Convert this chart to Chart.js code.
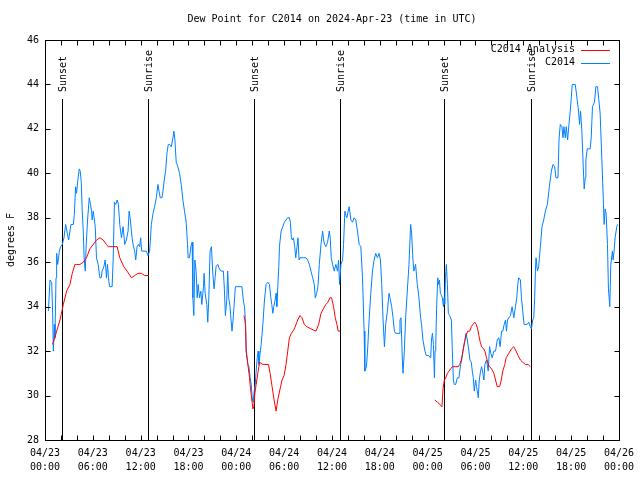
<!DOCTYPE html>
<html>
<head>
<meta charset="utf-8">
<script src="https://cdn.jsdelivr.net/npm/chart.js@4"></script>
<style>
  html, body { margin: 0; padding: 0; background: #fff; }
  #wrap { width: 640px; height: 480px; }
</style>
</head>
<body>
<div id="wrap"><canvas id="myChart" width="640" height="480"></canvas></div>
<script>
// hours after 04/23 00:00 UTC
var obsHours = [
  0.42,0.63,0.84,0.96,1.05,1.17,1.25,1.38,1.46,1.59,1.67,1.8,1.96,2.17,2.38,2.59,2.8,2.96,3.13,3.25,
  3.55,3.67,3.84,3.96,4.09,4.3,4.42,4.55,4.67,4.8,4.92,5.05,5.17,5.34,5.55,5.71,5.84,5.92,6.05,6.17,
  6.3,6.46,6.67,6.88,7.05,7.17,7.38,7.55,7.71,7.84,7.96,8.09,8.42,8.55,8.71,8.88,9.05,9.21,9.38,9.59,
  9.8,10.0,10.21,10.42,10.55,10.71,10.92,11.05,11.25,11.38,11.55,11.71,11.88,12.0,12.13,12.3,12.71,12.92,13.13,13.34,
  13.55,13.75,13.96,14.17,14.3,14.46,14.67,14.8,14.96,15.13,15.3,15.46,15.63,15.84,16.05,16.17,16.3,16.46,16.67,16.88,
  17.09,17.3,17.5,17.71,17.88,17.96,18.13,18.3,18.46,18.55,18.67,18.8,18.96,19.09,19.21,19.38,19.55,19.67,19.88,19.96,
  20.09,20.3,20.42,20.55,20.71,20.88,21.05,21.21,21.34,21.46,21.67,21.88,22.09,22.38,22.5,22.63,22.8,22.92,23.05,23.21,
  23.34,23.46,23.59,23.71,23.88,24.17,
  24.7,24.91,25.03,25.16,25.24,25.45,25.58,25.74,25.87,25.99,26.12,26.24,26.37,26.49,26.62,26.74,26.83,26.99,27.12,27.33,
  27.53,27.74,27.95,28.16,28.33,28.45,28.58,28.7,28.87,28.99,29.08,29.2,29.33,29.41,29.62,29.83,30.03,30.24,30.45,30.66,
  30.78,30.91,31.03,31.16,31.33,31.45,31.62,31.74,31.87,31.99,32.33,32.74,32.95,33.16,33.37,33.58,33.78,33.91,34.08,34.24,
  34.41,34.62,34.83,34.95,35.08,35.24,35.45,35.66,35.78,35.91,36.08,36.28,36.49,36.7,36.83,36.95,37.12,37.33,37.45,37.62,
  37.74,37.87,38.03,38.16,38.37,38.58,38.78,38.99,39.2,39.41,39.62,39.83,40.03,40.12,40.33,40.49,40.66,40.87,41.08,41.28,
  41.49,41.7,41.91,42.08,42.24,42.41,42.58,42.74,42.95,43.16,43.28,43.49,43.66,43.83,43.99,44.41,44.53,44.66,44.83,44.91,
  45.08,45.24,45.45,45.66,45.87,45.99,46.16,46.28,46.49,46.7,46.91,47.12,47.24,47.41,47.66,47.83,48.08,
  48.39,48.48,48.6,48.73,48.85,48.93,49.02,49.14,49.27,49.35,49.48,49.6,49.73,49.85,49.98,50.06,50.14,50.23,50.35,50.48,
  50.6,50.77,50.98,51.1,51.23,51.35,51.52,51.73,51.93,52.14,52.27,52.43,52.56,52.68,52.81,52.98,53.18,53.31,53.48,53.6,
  53.73,53.85,54.02,54.14,54.27,54.35,54.48,54.64,54.77,54.93,55.06,55.18,55.39,55.6,55.77,55.93,56.1,56.31,56.52,56.73,
  56.93,57.1,57.27,57.43,57.6,57.77,57.89,58.02,58.18,58.39,58.6,58.81,59.02,59.18,59.31,59.43,59.64,59.77,59.93,60.1,
  60.27,60.48,60.68,60.89,61.02,61.18,61.31,61.43,61.52,61.6,61.77,61.93,62.14,62.35,62.56,62.77,63.02,63.27,63.52,63.73,
  63.93,64.1,64.35,64.48,64.64,64.85,64.98,65.1,65.27,65.39,65.56,65.73,65.89,66.02,66.14,66.52,66.73,66.93,67.06,67.18,
  67.35,67.52,67.64,67.77,67.85,68.02,68.39,68.52,68.68,68.93,69.1,69.31,69.48,69.64,69.85,70.06,70.14,70.27,70.39,70.56,
  70.68,70.85,70.98,71.18,71.27,71.39,71.52,71.73,71.85
];
var obsValues = [
  33.8,35.2,35.1,33.7,32.0,33.2,32.6,35.3,36.4,35.9,36.1,36.5,36.7,36.8,37.1,37.7,37.3,37.0,37.4,37.7,
  37.7,38.1,39.4,39.1,39.6,40.2,40.1,39.6,38.3,37.4,36.1,35.6,36.8,37.9,38.9,38.6,38.3,37.9,38.3,38.0,
  37.6,36.2,35.9,35.3,35.3,35.6,35.8,36.1,35.3,35.9,35.3,34.9,34.9,36.1,38.7,38.6,38.8,38.6,37.7,37.1,
  37.6,36.8,37.0,37.4,38.3,37.9,37.1,36.8,36.5,36.1,36.7,36.8,36.7,37.1,36.5,36.5,36.5,36.3,36.5,37.7,
  38.2,38.5,38.9,39.5,39.2,38.9,38.9,39.2,39.7,40.1,40.9,41.3,41.3,41.2,41.6,41.9,41.5,40.5,40.3,40.0,
  39.5,38.8,38.3,37.8,36.8,36.2,36.2,36.7,36.9,34.4,33.6,36.1,35.6,34.4,35.0,34.4,34.7,34.1,34.9,35.5,
  34.6,34.1,33.3,34.4,36.5,36.7,35.5,34.8,35.3,35.8,35.9,35.7,35.6,35.6,34.8,33.6,34.3,35.6,34.4,34.0,
  33.4,32.9,33.4,34.0,34.9,34.9,
  34.9,34.2,34.0,33.2,32.0,31.4,31.3,30.8,30.5,29.9,29.7,30.2,30.5,31.1,31.7,32.0,31.4,31.9,32.3,33.2,
  34.3,35.0,35.1,35.0,34.4,34.1,33.7,34.0,34.3,34.6,34.0,34.9,35.8,36.7,37.4,37.6,37.8,37.9,38.0,38.0,
  37.8,37.1,37.0,37.1,36.7,36.2,36.7,37.1,36.1,36.2,36.2,36.2,36.1,35.9,35.6,35.3,35.0,34.4,34.6,34.9,
  35.9,36.8,37.4,37.0,36.8,36.7,36.9,37.4,37.1,36.2,35.9,35.6,35.9,35.6,36.1,35.0,35.9,36.1,36.8,38.3,
  38.1,38.0,38.3,38.5,37.9,37.8,38.0,37.9,37.4,36.8,36.7,35.3,32.9,31.1,31.3,32.2,33.4,34.6,35.6,36.1,
  36.4,36.2,36.4,36.1,35.0,33.4,32.2,33.2,33.8,34.6,34.4,34.0,33.5,32.9,32.8,32.8,33.4,33.5,31.6,31.0,
  32.0,33.5,34.7,35.9,37.7,37.3,36.1,35.6,35.9,35.0,34.4,33.5,33.2,32.5,32.0,31.8,31.8,
  31.7,32.5,32.8,32.3,30.8,32.0,32.3,34.1,35.3,35.0,35.2,34.6,34.5,34.4,34.0,34.4,34.1,35.3,35.9,35.0,
  33.7,33.6,33.4,32.0,30.7,30.5,30.5,30.8,30.8,31.4,31.6,32.0,32.3,32.5,32.8,32.5,32.0,31.6,31.5,31.1,
  30.8,30.2,30.7,30.4,30.1,29.9,30.7,31.1,31.3,31.0,30.7,31.4,31.6,31.1,32.2,31.9,31.7,32.0,32.0,32.5,
  32.6,32.2,32.9,32.9,33.2,33.4,32.9,33.4,33.5,33.6,34.0,33.5,34.0,34.4,35.0,35.3,35.2,34.4,33.8,33.2,
  33.2,33.2,33.3,33.1,33.0,33.4,33.5,34.4,35.6,36.2,35.6,35.8,36.7,37.6,37.9,38.3,38.6,39.4,40.1,40.4,
  40.3,39.8,39.8,41.5,42.2,42.1,41.6,42.1,41.6,42.1,41.5,42.2,42.8,43.4,44.0,44.0,43.4,42.8,42.2,42.8,
  41.9,40.3,39.3,39.8,40.6,41.1,41.1,41.6,43.0,43.2,43.9,43.9,43.3,42.7,40.7,38.6,37.7,38.4,38.2,36.8,
  34.8,34.0,35.9,36.5,36.1,36.5,37.1,37.6,37.7
];

var anaHours = [
  0.92,1.25,1.46,1.88,2.3,2.71,3.13,3.42,3.75,3.96,4.38,4.8,5.0,5.21,5.63,6.05,6.46,6.88,7.3,7.71,
  7.92,9.05,9.38,9.88,10.3,10.84,11.25,11.67,12.09,12.5,13.05,
  19,
  24.95,25.08,25.16,25.24,25.45,25.66,25.78,25.95,26.08,26.2,26.33,26.49,26.7,26.91,27.33,28.03,28.24,28.49,28.74,28.99,
  29.2,29.49,29.74,29.99,30.24,30.45,30.66,30.91,31.28,31.7,31.99,32.24,32.53,32.83,33.37,33.99,34.33,34.62,34.91,35.24,
  35.49,35.74,35.95,36.2,36.41,36.62,36.78,37.03,
  43,
  48.89,49.23,49.52,49.8,49.93,50.1,50.27,50.48,50.68,50.89,51.1,51.52,51.85,52.02,52.23,52.43,52.64,52.81,53.02,53.27,
  53.48,53.68,53.93,54.1,54.27,54.43,54.6,54.77,55.02,55.18,55.39,55.6,55.77,56.02,56.31,56.52,56.73,57.02,57.18,57.43,
  57.68,57.85,58.18,58.52,58.81,59.1,59.35,59.64,59.93,60.27,60.6,60.89
];
var anaValues = [
  32.3,32.6,32.9,33.4,34.1,34.7,35.0,35.5,35.9,35.9,35.9,36.0,36.1,36.2,36.6,36.8,37.0,37.1,37.0,36.8,
  36.7,36.7,36.2,35.8,35.6,35.3,35.4,35.5,35.5,35.4,35.4,
  null,
  33.6,33.4,33.1,32.0,31.4,30.8,30.3,29.8,29.4,29.5,30.1,30.5,31.0,31.5,31.4,31.4,31.0,30.4,29.8,29.3,
  29.8,30.3,30.7,30.9,31.4,32.0,32.6,32.8,33.0,33.4,33.6,33.5,33.2,33.1,33.0,32.9,33.2,33.7,33.9,34.1,
  34.2,34.4,34.4,34.0,33.5,33.2,32.9,32.9,
  null,
  29.8,29.7,29.6,29.5,30.3,30.7,30.8,31.0,31.1,31.2,31.3,31.3,31.3,31.4,31.6,32.0,32.4,32.7,32.9,32.9,
  33.1,33.2,33.3,33.2,33.0,32.7,32.4,32.2,32.1,32.0,31.7,31.4,31.3,31.2,31.0,30.7,30.4,30.4,30.6,31.1,
  31.4,31.7,31.9,32.1,32.2,32.0,31.8,31.6,31.5,31.4,31.4,31.3
];

var sunHours = [2.17, 12.93, 26.2, 36.96, 50.1, 61.0];
var sunLabels = ["Sunset", "Sunrise", "Sunset", "Sunrise", "Sunset", "Sunrise"];
var dayLabels = ["04/23", "04/24", "04/25", "04/26"];
var seriesNames = ["C2014 Analysis", "C2014"];

var FONT = '10px "DejaVu Sans Mono", "Liberation Mono", monospace';

function pts(xs, ys) {
  return xs.map(function (x, i) { return { x: x, y: ys[i] }; });
}

var gnuFrame = {
  id: 'gnuFrame',
  beforeDatasetsDraw: function (chart) {
    var ctx = chart.ctx, a = chart.chartArea, xs = chart.scales.x;
    ctx.save();
    ctx.strokeStyle = '#000';
    ctx.lineWidth = 1;
    ctx.fillStyle = '#000';
    ctx.font = FONT;
    sunHours.forEach(function (h, i) {
      var px = Math.round(xs.getPixelForValue(h)) + 0.5;
      ctx.beginPath();
      ctx.moveTo(px, 99);
      ctx.lineTo(px, a.bottom);
      ctx.stroke();
      ctx.save();
      ctx.translate(px + 1, 92);
      ctx.rotate(-Math.PI / 2);
      ctx.textAlign = 'left';
      ctx.textBaseline = 'middle';
      ctx.fillText(sunLabels[i], 0, 0);
      ctx.restore();
    });
    ctx.restore();
  },
  afterDatasetsDraw: function (chart) {
    var ctx = chart.ctx, a = chart.chartArea, xs = chart.scales.x, ys = chart.scales.y;
    ctx.save();
    ctx.strokeStyle = '#000';
    ctx.lineWidth = 1;
    var L = Math.round(a.left) + 0.5, R = Math.round(a.right) + 0.5;
    var T = Math.round(a.top) + 0.5, B = Math.round(a.bottom) + 0.5;
    ctx.strokeRect(L, T, R - L, B - T);
    ctx.beginPath();
    for (var h = 2; h < 72; h += 2) {
      var px = Math.round(xs.getPixelForValue(h)) + 0.5;
      ctx.moveTo(px, B); ctx.lineTo(px, B - 5);
      ctx.moveTo(px, T); ctx.lineTo(px, T + 5);
    }
    for (var v = 30; v < 46; v += 2) {
      var py = Math.round(ys.getPixelForValue(v)) + 0.5;
      ctx.moveTo(L, py); ctx.lineTo(L + 5, py);
      ctx.moveTo(R, py); ctx.lineTo(R - 5, py);
    }
    ctx.stroke();

    ctx.fillStyle = '#000';
    ctx.font = FONT;
    ctx.textBaseline = 'middle';
    ctx.textAlign = 'center';
    ctx.fillText('Dew Point for C2014 on 2024-Apr-23 (time in UTC)', (a.left + a.right) / 2, 19);
    ctx.save();
    ctx.translate(11, (a.top + a.bottom) / 2);
    ctx.rotate(-Math.PI / 2);
    ctx.fillText('degrees F', 0, 0);
    ctx.restore();

    // key, top right inside the plot
    ctx.textAlign = 'right';
    chart.data.datasets.forEach(function (ds, i) {
      var y = 49.5 + i * 13;
      ctx.fillStyle = '#000';
      ctx.fillText(ds.label, 575, y);
      ctx.strokeStyle = ds.borderColor;
      ctx.beginPath();
      ctx.moveTo(581, Math.round(y) + 0.5);
      ctx.lineTo(610, Math.round(y) + 0.5);
      ctx.stroke();
    });
    ctx.restore();
  }
};

var ctx = document.getElementById('myChart');
var myChart = new Chart(ctx, {
  type: 'line',
  data: {
    datasets: [{
      label: seriesNames[0],
      data: pts(anaHours, anaValues),
      borderColor: '#ff0000',
      borderWidth: 1,
      pointRadius: 0,
      tension: 0,
      spanGaps: false
    }, {
      label: seriesNames[1],
      data: pts(obsHours, obsValues),
      borderColor: '#0080ff',
      borderWidth: 1,
      pointRadius: 0,
      tension: 0
    }]
  },
  options: {
    responsive: false,
    animation: false,
    events: [],
    layout: { padding: { top: 40, right: 20, left: 0, bottom: 0 } },
    plugins: { legend: { display: false }, title: { display: false }, tooltip: { enabled: false } },
    scales: {
      x: {
        type: 'linear', min: 0, max: 72,
        grid: { display: false, drawTicks: false },
        border: { display: false },
        ticks: {
          stepSize: 6, autoSkip: false, maxRotation: 0, padding: 6,
          color: '#000',
          font: { family: '"DejaVu Sans Mono", "Liberation Mono", monospace', size: 10, lineHeight: 1.4 },
          callback: function (v) {
            var hh = v % 24;
            return [dayLabels[Math.floor(v / 24)], (hh < 10 ? '0' : '') + hh + ':00'];
          }
        },
        afterFit: function (s) { s.height = 40; }
      },
      y: {
        min: 28, max: 46,
        grid: { display: false, drawTicks: false },
        border: { display: false },
        ticks: {
          stepSize: 2, padding: 6, color: '#000',
          font: { family: '"DejaVu Sans Mono", "Liberation Mono", monospace', size: 10 }
        },
        afterFit: function (s) { s.width = 45; }
      }
    }
  },
  plugins: [gnuFrame]
});
</script>
</body>
</html>
